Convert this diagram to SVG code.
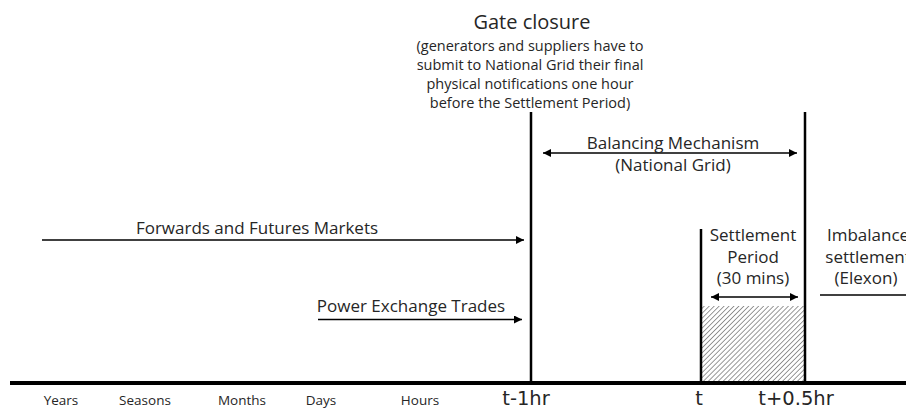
<svg xmlns="http://www.w3.org/2000/svg" width="906" height="409" viewBox="0 0 906 409">
<style>
text{font-family:"Open Sans","Liberation Sans",sans-serif;fill:#262626}
.t{font-size:17px}
.s{font-size:14.5px}
.ax{font-size:13.5px}
.tk{font-family:"DejaVu Sans","Liberation Sans",sans-serif;font-size:19.5px}
.ln{stroke:#000;fill:none}
</style>
<defs>
<marker id="ah" viewBox="0 0 10 10" refX="10" refY="5" markerWidth="9" markerHeight="8" markerUnits="userSpaceOnUse" orient="auto-start-reverse"><path d="M0,0L10,5L0,10z" fill="#000"/></marker>
<pattern id="hatch" width="3.5" height="3.5" patternUnits="userSpaceOnUse" patternTransform="rotate(45)"><rect width="3.5" height="3.5" fill="#fff"/><line x1="0" y1="0" x2="0" y2="3.5" stroke="#777" stroke-width="1.5"/></pattern>
</defs>
<rect width="906" height="409" fill="#fff"/>
<g id="hatched-period"><rect x="701" y="306" width="104" height="77" fill="url(#hatch)"/></g>
<g id="connectors">
<line class="ln" x1="10" y1="383" x2="906" y2="383" stroke-width="4"/>
<line class="ln" x1="531" y1="112" x2="531" y2="383" stroke-width="2.5"/>
<line class="ln" x1="805" y1="112" x2="805" y2="383" stroke-width="2.5"/>
<line class="ln" x1="701" y1="229" x2="701" y2="383" stroke-width="2.5"/>
<line class="ln" x1="543" y1="153" x2="797" y2="153" stroke-width="1.3" marker-start="url(#ah)" marker-end="url(#ah)"/>
<line class="ln" x1="42" y1="240" x2="524" y2="240" stroke-width="1.3" marker-end="url(#ah)"/>
<line class="ln" x1="318" y1="319.5" x2="522" y2="319.5" stroke-width="1.3" marker-end="url(#ah)"/>
<line class="ln" x1="711" y1="297" x2="798" y2="297" stroke-width="1.3" marker-start="url(#ah)" marker-end="url(#ah)"/>
<line class="ln" x1="820" y1="295" x2="906" y2="295" stroke-width="1.3"/>
</g>
<g id="gate-closure">
<text x="532" y="29" text-anchor="middle" style="font-size:20px">Gate closure</text>
<text class="s" text-anchor="middle"><tspan x="530" y="51">(generators and suppliers have to</tspan><tspan x="530" y="70">submit to National Grid their final</tspan><tspan x="530" y="89">physical notifications one hour</tspan><tspan x="530" y="108">before the Settlement Period)</tspan></text>
</g>
<g id="balancing">
<text class="t" x="673" y="149" text-anchor="middle">Balancing Mechanism</text>
<text class="t" x="673" y="171" text-anchor="middle">(National Grid)</text>
</g>
<g id="forwards"><text class="t" x="257" y="234" text-anchor="middle">Forwards and Futures Markets</text></g>
<g id="power-exchange"><text class="t" x="411" y="312" text-anchor="middle">Power Exchange Trades</text></g>
<g id="settlement-period">
<text class="t" text-anchor="middle"><tspan x="753" y="241">Settlement</tspan><tspan x="753" y="263">Period</tspan><tspan x="753" y="284">(30 mins)</tspan></text>
</g>
<g id="imbalance">
<text class="t" text-anchor="middle"><tspan x="868" y="241">Imbalance</tspan><tspan x="868" y="263">settlement</tspan><tspan x="866" y="284">(Elexon)</tspan></text>
</g>
<g id="axis-labels">
<text class="ax" x="61" y="405" text-anchor="middle">Years</text>
<text class="ax" x="145" y="405" text-anchor="middle">Seasons</text>
<text class="ax" x="242" y="405" text-anchor="middle">Months</text>
<text class="ax" x="321" y="405" text-anchor="middle">Days</text>
<text class="ax" x="420" y="405" text-anchor="middle">Hours</text>
<text class="tk" x="526" y="405" text-anchor="middle">t-1hr</text>
<text class="tk" x="699" y="405" text-anchor="middle">t</text>
<text class="tk" x="796" y="405" text-anchor="middle">t+0.5hr</text>
</g>
</svg>
